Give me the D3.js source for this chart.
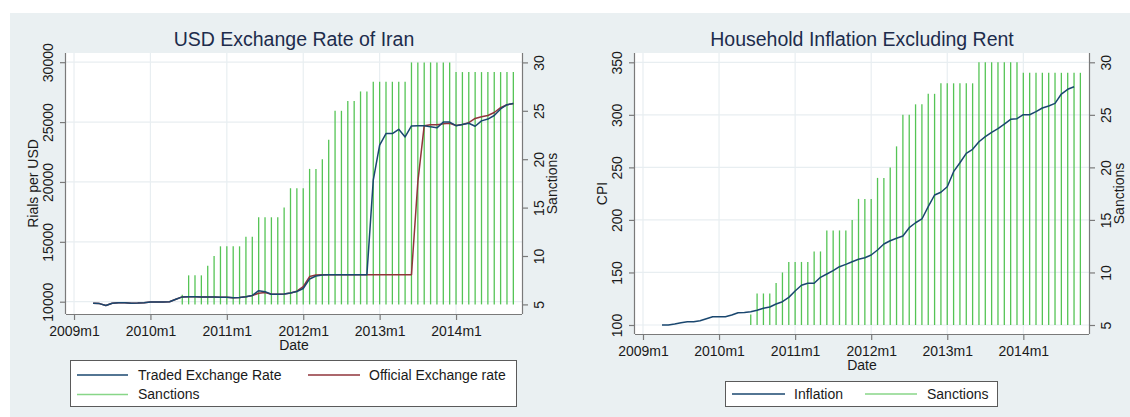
<!DOCTYPE html>
<html>
<head>
<meta charset="utf-8">
<script src="https://cdn.jsdelivr.net/npm/d3@7"></script>
<style>
  html, body { margin: 0; padding: 0; background: #ffffff; }
  svg { display: block; font-family: "Liberation Sans", Arial, sans-serif; }
</style>
</head>
<body>
<svg id="chart" width="1130" height="417"></svg>
<script>
// ---------------- DATA ----------------
// Month index: 0 = 2009m1
const xTickLabels = ["2009m1", "2010m1", "2011m1", "2012m1", "2013m1", "2014m1"];
const xTickMonths = [0, 12, 24, 36, 48, 60];

const rateStartMonth = 3;      // 2009m4
const tradedRate = [
  9870, 9840, 9680, 9870, 9920, 9920, 9880, 9890, 9920, 9970, 9970, 9980, 10000,
  10200, 10400, 10420, 10420, 10400, 10400, 10390, 10380, 10370, 10340, 10350,
  10420, 10520, 10920, 10840, 10620, 10630, 10650, 10720, 10850, 11100, 11900,
  12150, 12230, 12250, 12260, 12260, 12260, 12260, 12260, 12260, 20150, 23070,
  24040, 24040, 24400, 23760, 24680, 24700, 24700, 24600, 24520, 25000, 25000,
  24700, 24800, 24900, 24650, 25100, 25250, 25550, 26100, 26450, 26550
];
const officialRate = [
  9870, 9840, 9680, 9870, 9920, 9920, 9880, 9890, 9920, 9970, 9970, 9980, 10000,
  10200, 10400, 10420, 10420, 10400, 10400, 10390, 10380, 10370, 10340, 10350,
  10420, 10520, 10700, 10760, 10620, 10630, 10650, 10730, 10880, 11250, 12100,
  12230, 12260, 12260, 12260, 12260, 12260, 12260, 12260, 12260, 12260, 12260,
  12260, 12260, 12260, 12260, 12260, 20000, 24700, 24770, 24770, 24850, 24900,
  24720, 24800, 24950, 25300, 25450, 25550, 25800, 26200, 26450, 26550
];

const inflationStartMonth = 3; // 2009m4
const inflation = [
  100, 100, 101, 102.2, 103.2, 103.2, 104.1, 106, 107.9, 107.9, 107.9, 109.5,
  111.7, 112, 112.7, 114, 115.9, 117.1, 120, 122.2, 126.3, 132.3, 137.8, 139.7,
  139.7, 145.4, 148.5, 151.7, 155.5, 157.7, 160.2, 162.5, 164, 166.6, 171.4,
  177.1, 180.2, 182.5, 184.7, 192.6, 197.3, 200.9, 212.6, 223.7, 226.3, 231.6,
  245.9, 254.4, 263.4, 267.2, 274.4, 279.2, 283.4, 286.8, 291.2, 295.7, 296.3,
  300.1, 300.1, 303, 306.5, 308.4, 310.9, 319.8, 324.3, 326.7
];

const sanctionsStartMonth = 17; // 2010m6
const sanctions = [
  6, 8, 8, 8, 9, 10, 11, 11, 11, 11, 12, 12, 14, 14, 14, 14, 15, 17, 17, 17,
  19, 19, 20, 22, 25, 25, 26, 26, 27, 27, 28, 28, 28, 28, 28, 28,
  30, 30, 30, 30, 30, 30, 30,
  29, 29, 29, 29, 29, 29, 29, 29, 29, 29
];

const rateTicks = [10000, 15000, 20000, 25000, 30000];
const cpiTicks = [100, 150, 200, 250, 300, 350];
const sanctionTicks = [5, 10, 15, 20, 25, 30];

// ---------------- STYLE ----------------
const BG = "#eaf0f2";
const GRID = "#e8eef1";
const AXIS = "#7a7a7a";
const TITLE_COLOR = "#1d2c4c";
const TEXT = "#1a1a1a";
const NAVY = "#1a476f";
const MAROON = "#90353b";
const GREEN = "#55c455";

const svg = d3.select("#chart");
svg.append("rect").attr("x", 10).attr("y", 13).attr("width", 1120).attr("height", 404).attr("fill", BG);

const toPoints = (arr, start) => arr.map((v, i) => ({ m: start + i, v }));

function drawPanel(cfg) {
  const g = svg.append("g");
  const x = d3.scaleLinear().domain([-1.26, 70.36]).range([cfg.left, cfg.right]);
  const yL = d3.scaleLinear().domain(cfg.leftDomain).range(cfg.leftRange);
  const yR = d3.scaleLinear().domain([5, 30]).range(cfg.rightRange);

  // plot region
  g.append("rect").attr("x", cfg.left).attr("y", cfg.top)
    .attr("width", cfg.right - cfg.left).attr("height", cfg.bottom - cfg.top).attr("fill", "#fff");

  // grid
  g.selectAll(".hg").data(cfg.leftTicks).enter().append("line")
    .attr("x1", cfg.left).attr("x2", cfg.right)
    .attr("y1", d => yL(d)).attr("y2", d => yL(d))
    .attr("stroke", GRID).attr("stroke-width", 1.2);
  g.selectAll(".vg").data(xTickMonths).enter().append("line")
    .attr("x1", d => x(d)).attr("x2", d => x(d))
    .attr("y1", cfg.top).attr("y2", cfg.bottom)
    .attr("stroke", GRID).attr("stroke-width", 1.2);

  // sanctions spikes
  g.selectAll(".sp").data(toPoints(sanctions, sanctionsStartMonth)).enter().append("line")
    .attr("x1", d => x(d.m)).attr("x2", d => x(d.m))
    .attr("y1", yR(5)).attr("y2", d => yR(d.v))
    .attr("stroke", GREEN).attr("stroke-width", 1.3);

  // lines
  cfg.series.forEach(s => {
    const line = d3.line().x(d => x(d.m)).y(d => yL(d.v));
    g.append("path").datum(toPoints(s.data, s.start))
      .attr("d", line).attr("fill", "none")
      .attr("stroke", s.color).attr("stroke-width", 1.5).attr("stroke-linejoin", "round");
  });

  // axes
  const axisStyle = sel => {
    sel.select(".domain").attr("stroke", AXIS).attr("stroke-width", 1.2);
    sel.selectAll(".tick line").attr("stroke", AXIS).attr("stroke-width", 1.2);
    sel.selectAll(".tick text").attr("fill", TEXT).attr("font-size", "14px")
      .attr("font-family", "Liberation Sans, Arial, sans-serif");
  };

  // bottom axis
  const xAxisScale = x.copy();
  const gx = g.append("g").attr("transform", `translate(0,${cfg.bottom})`)
    .call(d3.axisBottom(xAxisScale).tickValues(xTickMonths)
      .tickFormat((d, i) => xTickLabels[i]).tickSizeOuter(0).tickSize(6).tickPadding(4));
  gx.select(".domain").attr("d", `M${cfg.left},0.5H${cfg.right}`);
  axisStyle(gx);
  gx.selectAll(".tick text").attr("y", 17).attr("dy", "0.35em");

  // left axis
  const yLaxis = d3.scaleLinear().domain(cfg.leftDomain).range(cfg.leftRange);
  const gl = g.append("g").attr("transform", `translate(${cfg.left},0)`)
    .call(d3.axisLeft(yLaxis).tickValues(cfg.leftTicks).tickFormat(d3.format("d")).tickSizeOuter(0).tickSize(6));
  gl.select(".domain").attr("d", `M-0.5,${cfg.top}V${cfg.bottom}`);
  axisStyle(gl);
  gl.selectAll(".tick text")
    .attr("x", 0).attr("dy", 0)
    .attr("text-anchor", "middle")
    .attr("transform", "translate(-18,0) rotate(-90)")
    .attr("dy", "0.35em");

  // right axis
  const gr = g.append("g").attr("transform", `translate(${cfg.right},0)`)
    .call(d3.axisRight(yR).tickValues(sanctionTicks).tickFormat(d3.format("d")).tickSizeOuter(0).tickSize(6));
  gr.select(".domain").attr("d", `M0.5,${cfg.top}V${cfg.bottom}`);
  axisStyle(gr);
  gr.selectAll(".tick text")
    .attr("x", 0)
    .attr("text-anchor", "middle")
    .attr("transform", "translate(17,0) rotate(-90)")
    .attr("dy", "0.35em");

  // titles
  const cx = (cfg.left + cfg.right) / 2;
  const cy = (cfg.top + cfg.bottom) / 2;
  g.append("text").attr("x", cx).attr("y", 39).attr("dy", "0.35em")
    .attr("text-anchor", "middle").attr("font-size", "19.5px").attr("fill", TITLE_COLOR)
    .text(cfg.title);
  g.append("text").attr("x", cx).attr("y", cfg.bottom + 31).attr("dy", "0.35em")
    .attr("text-anchor", "middle").attr("font-size", "14px").attr("fill", TEXT).text("Date");
  g.append("text").attr("transform", `translate(${cfg.left - 33},${cy}) rotate(-90)`)
    .attr("dy", "0.35em").attr("text-anchor", "middle").attr("font-size", "14px").attr("fill", TEXT)
    .text(cfg.leftTitle);
  g.append("text").attr("transform", `translate(${cfg.right + 30},${cy}) rotate(-90)`)
    .attr("dy", "0.35em").attr("text-anchor", "middle").attr("font-size", "14px").attr("fill", TEXT)
    .text("Sanctions");

  // legend
  const lg = cfg.legend;
  g.append("rect").attr("x", lg.x0).attr("y", lg.y0).attr("width", lg.x1 - lg.x0).attr("height", lg.y1 - lg.y0)
    .attr("fill", "#fff").attr("stroke", "#5a5a5a").attr("stroke-width", 1);
  lg.items.forEach(it => {
    g.append("line").attr("x1", it.lx0).attr("x2", it.lx1).attr("y1", it.y).attr("y2", it.y)
      .attr("stroke", it.color).attr("stroke-width", it.color === GREEN ? 1.3 : 1.5)
      .attr("stroke-opacity", it.color === GREEN ? 0.7 : 1);
    g.append("text").attr("x", it.tx).attr("y", it.y).attr("dy", "0.35em")
      .attr("font-size", "14px").attr("fill", TEXT).text(it.label);
  });
}

drawPanel({
  left: 66, right: 522, top: 53, bottom: 314,
  leftDomain: [10000, 30000], leftRange: [301.7, 62.2], leftTicks: rateTicks,
  rightRange: [304.4, 62.4],
  title: "USD Exchange Rate of Iran", leftTitle: "Rials per USD",
  series: [
    { data: officialRate, start: rateStartMonth, color: MAROON },
    { data: tradedRate, start: rateStartMonth, color: NAVY }
  ],
  legend: {
    x0: 70.5, x1: 516.5, y0: 360.5, y1: 406.5,
    items: [
      { lx0: 77, lx1: 128, tx: 138, y: 375, color: NAVY, label: "Traded Exchange Rate" },
      { lx0: 308, lx1: 360, tx: 369, y: 375, color: MAROON, label: "Official Exchange rate" },
      { lx0: 77, lx1: 128, tx: 138, y: 394.5, color: GREEN, label: "Sanctions" }
    ]
  }
});

drawPanel({
  left: 635, right: 1089, top: 53, bottom: 334,
  leftDomain: [100, 350], leftRange: [325, 62.3], leftTicks: cpiTicks,
  rightRange: [325, 62.3],
  title: "Household Inflation Excluding Rent", leftTitle: "CPI",
  series: [
    { data: inflation, start: inflationStartMonth, color: NAVY }
  ],
  legend: {
    x0: 725.5, x1: 997.5, y0: 381.5, y1: 406.5,
    items: [
      { lx0: 732, lx1: 785, tx: 794, y: 394, color: NAVY, label: "Inflation" },
      { lx0: 865, lx1: 917, tx: 927, y: 394, color: GREEN, label: "Sanctions" }
    ]
  }
});
</script>
</body>
</html>
